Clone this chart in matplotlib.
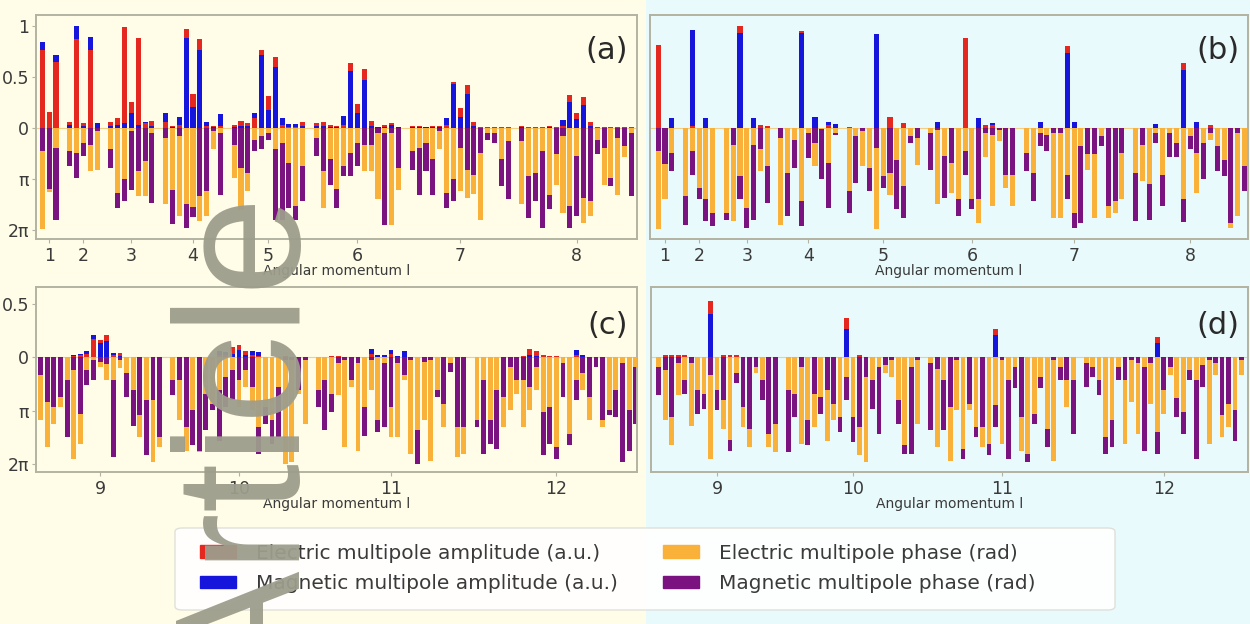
import numpy as np
import matplotlib
matplotlib.use("Agg")
import matplotlib.pyplot as plt
from matplotlib.patches import Patch, Rectangle, FancyBboxPatch

# angular momenta shown in each row
ls_top = [1, 2, 3, 4, 5, 6, 7, 8]
ls_bot = [9, 10, 11, 12]

# phases are given in units of pi (0..2), amplitudes in a.u.
# ---- panel (a) ----
a_e_amp = [0.77, 0.16, 0.65,
           0.06, 0.87, 0.05, 0.77, 0.00,
           0.06, 0.10, 0.99, 0.26, 0.88, 0.05, 0.07,
           0.06, 0.02, 0.03, 0.97, 0.33, 0.87, 0.02, 0.02, 0.02,
           0.03, 0.07, 0.05, 0.10, 0.77, 0.31, 0.70, 0.03, 0.01, 0.01, 0.06,
           0.05, 0.06, 0.03, 0.02, 0.03, 0.64, 0.24, 0.58, 0.07, 0.01, 0.03, 0.05, 0.01,
           0.02, 0.02, 0.01, 0.02, 0.02, 0.03, 0.45, 0.20, 0.42, 0.06, 0.01, 0.01, 0.01, 0.01, 0.01,
           0.02, 0.01, 0.01, 0.01, 0.02, 0.01, 0.02, 0.32, 0.15, 0.30, 0.06, 0.01, 0.01, 0.01, 0.01, 0.01, 0.01]
a_m_amp = [0.84, 0.00, 0.72,
           0.03, 1.00, 0.02, 0.89, 0.05,
           0.02, 0.03, 0.05, 0.15, 0.03, 0.06, 0.02,
           0.15, 0.01, 0.11, 0.88, 0.21, 0.77, 0.06, 0.01, 0.14,
           0.01, 0.02, 0.02, 0.15, 0.72, 0.18, 0.60, 0.10, 0.04, 0.04, 0.02,
           0.02, 0.02, 0.01, 0.01, 0.12, 0.56, 0.15, 0.47, 0.02, 0.01, 0.01, 0.03, 0.01,
           0.01, 0.01, 0.01, 0.01, 0.01, 0.10, 0.43, 0.11, 0.33, 0.02, 0.00, 0.00, 0.00, 0.00, 0.00,
           0.01, 0.00, 0.00, 0.00, 0.01, 0.00, 0.08, 0.26, 0.09, 0.23, 0.02, 0.00, 0.00, 0.00, 0.00, 0.00, 0.00]
a_e_ph = [1.98, 1.25, 0.40,
          0.45, 0.50, 0.30, 0.85, 0.82,
          0.42, 1.27, 1.01, 0.05, 1.34, 1.34, 0.10,
          1.50, 1.21, 1.73, 1.50, 1.55, 1.83, 1.73, 0.42, 0.10,
          0.98, 1.61, 1.24, 0.23, 0.16, 0.10, 0.42, 0.30, 0.69, 1.54, 0.75,
          0.20, 1.57, 0.60, 1.20, 0.75, 0.49, 0.30, 0.85, 0.85, 1.40, 0.10, 1.90, 1.21,
          0.46, 0.40, 0.30, 0.60, 0.42, 1.27, 1.01, 1.24, 1.37, 1.30, 1.80, 0.10, 0.10, 0.60, 0.25,
          1.50, 0.95, 0.88, 0.45, 1.31, 1.11, 1.67, 1.54, 0.55, 1.86, 1.73, 0.23, 1.11, 0.98, 1.31, 0.56, 0.10]
a_m_ph = [0.46, 1.20, 1.81,
          0.75, 0.98, 0.55, 0.33, 0.05,
          0.78, 1.57, 1.44, 1.21, 0.85, 0.65, 1.47,
          0.20, 1.88, 0.16, 1.96, 1.75, 1.34, 1.24, 0.05, 1.31,
          0.33, 0.78, 0.88, 0.46, 0.42, 0.23, 1.80, 1.80, 1.57, 1.80, 1.44,
          0.55, 0.85, 1.11, 1.57, 0.95, 0.95, 0.75, 0.33, 0.33, 0.10, 1.90, 0.10, 0.78,
          0.82, 1.31, 0.85, 1.31, 0.05, 1.57, 1.44, 0.40, 0.82, 0.92, 0.49, 0.23, 0.30, 1.14, 1.40,
          0.26, 1.76, 1.44, 1.96, 1.60, 0.52, 0.16, 1.96, 1.73, 1.37, 1.44, 0.52, 0.39, 1.14, 0.20, 0.36, 1.34]

# ---- panel (b) ----
b_e_amp = [0.82, 0.00, 0.00,
           0.00, 0.02, 0.00, 0.00, 0.00,
           0.00, 0.00, 1.00, 0.00, 0.00, 0.03, 0.02,
           0.00, 0.00, 0.00, 0.95, 0.00, 0.00, 0.00, 0.03, 0.00,
           0.01, 0.00, 0.00, 0.00, 0.00, 0.00, 0.11, 0.00, 0.05, 0.00, 0.00,
           0.00, 0.00, 0.00, 0.00, 0.00, 0.88, 0.00, 0.00, 0.03, 0.03, 0.00, 0.00, 0.00,
           0.00, 0.00, 0.00, 0.00, 0.00, 0.00, 0.81, 0.00, 0.00, 0.00, 0.00, 0.00, 0.00, 0.00, 0.00,
           0.00, 0.00, 0.00, 0.00, 0.00, 0.00, 0.00, 0.64, 0.00, 0.00, 0.00, 0.03, 0.00, 0.00, 0.00, 0.00, 0.00]
b_m_amp = [0.00, 0.00, 0.10,
           0.00, 0.96, 0.00, 0.10, 0.00,
           0.00, 0.00, 0.93, 0.00, 0.10, 0.00, 0.00,
           0.00, 0.00, 0.00, 0.93, 0.00, 0.11, 0.00, 0.06, 0.04,
           0.00, 0.00, 0.00, 0.00, 0.92, 0.00, 0.00, 0.00, 0.00, 0.00, 0.00,
           0.00, 0.06, 0.00, 0.00, 0.00, 0.00, 0.00, 0.10, 0.00, 0.05, 0.00, 0.00, 0.00,
           0.00, 0.00, 0.06, 0.00, 0.00, 0.00, 0.74, 0.06, 0.00, 0.00, 0.00, 0.00, 0.00, 0.00, 0.00,
           0.00, 0.00, 0.00, 0.04, 0.00, 0.00, 0.00, 0.57, 0.00, 0.06, 0.00, 0.00, 0.00, 0.00, 0.00, 0.00, 0.00]
b_e_ph = [1.98, 1.40, 0.50,
          1.34, 0.46, 1.18, 1.40, 1.66,
          1.66, 1.83, 0.95, 1.57, 0.33, 0.85, 0.75,
          1.90, 0.88, 0.23, 1.44, 0.10, 0.75, 0.02, 0.69, 0.10,
          1.24, 0.16, 0.75, 0.78, 1.98, 0.95, 1.31, 0.62, 1.14, 0.16, 0.72,
          0.10, 1.50, 0.55, 1.27, 1.40, 0.46, 1.40, 1.86, 0.56, 1.54, 0.26, 1.18, 1.54,
          0.49, 0.88, 0.10, 0.13, 1.76, 1.76, 0.92, 1.67, 0.36, 0.82, 1.76, 0.16, 1.76, 1.67, 1.40,
          0.88, 1.05, 1.10, 0.10, 0.92, 0.10, 0.30, 1.40, 0.16, 1.27, 0.30, 0.23, 0.36, 0.62, 1.96, 1.73, 0.75]
b_m_ph = [0.46, 0.70, 0.85,
          1.90, 0.92, 1.39, 1.83, 1.93,
          1.80, 0.33, 1.40, 1.96, 1.80, 0.42, 1.47,
          0.20, 1.73, 0.78, 1.92, 0.59, 0.30, 1.01, 1.57, 0.13,
          1.67, 1.08, 0.06, 1.24, 0.39, 1.18, 0.88, 1.60, 1.76, 0.30, 0.20,
          0.82, 0.03, 1.37, 0.69, 1.73, 0.92, 1.60, 1.40, 0.10, 0.13, 0.03, 0.92, 0.92,
          0.85, 1.44, 0.36, 0.46, 0.10, 0.10, 1.39, 1.96, 1.86, 0.52, 0.52, 0.36, 1.54, 1.44, 0.49,
          1.83, 0.33, 1.80, 0.30, 1.54, 0.56, 0.56, 1.85, 0.42, 0.50, 1.01, 0.10, 0.85, 0.95, 1.86, 0.10, 1.24]

# ---- panel (c) ----
c_e_amp = [0, 0, 0, 0, 0, .01, .02, .03, .17, .16, .21, .02, .04, 0, 0, 0, 0, 0, 0,
           0, 0, 0, 0, 0, 0, 0, .02, .02, .10, .12, .06, .02, .01, 0, 0, 0, .01, 0, 0, 0,
           0, 0, .01, .01, 0, 0, 0, 0, .03, .02, .02, .03, .01, 0, 0, 0, 0, 0, 0, 0, 0, 0, 0,
           0, 0, 0, 0, 0, 0, 0, .01, .08, .06, .02, .01, .01, 0, 0, .02, 0, 0, 0, 0, 0, 0, 0, 0, 0]
c_m_amp = [0, 0, 0, 0, 0, .02, .03, .06, .21, .13, .15, .04, .01, 0, 0, 0, 0, 0, 0,
           0, 0, 0, 0, 0, 0, 0, .06, .05, .03, .07, .02, .06, .05, 0, 0, 0, 0, 0, 0, 0,
           0, 0, 0, 0, 0, 0, 0, 0, .08, .02, .02, .07, .01, .06, 0, 0, 0, 0, 0, 0, 0, 0, 0,
           0, 0, 0, 0, 0, 0, 0, 0, .02, .01, 0, 0, 0, 0, 0, .07, .02, 0, 0, 0, 0, 0, 0, 0, 0]
c_e_ph = [1.18, 1.69, 1.25, 0.93, 0.43, 1.91, 1.62, 0.24, 0.05, 0.18, 0.43, 0.43, 0.20, 0.30, 0.62, 1.50, 0.80, 1.97, 1.69,
          0.43, 1.18, 1.75, 0.99, 1.78, 0.68, 0.87, 0.62, 0.37, 0.24, 0.93, 0.55, 0.99, 1.31, 0.93, 1.18, 0.55, 2.00, 1.97, 0.68, 1.25,
          0.62, 0.43, 0.68, 0.71, 1.69, 0.55, 1.75, 0.93, 0.62, 1.18, 0.10, 1.50, 1.50, 0.43, 1.81, 1.37, 1.18, 1.94, 0.62, 1.31, 0.10, 1.87, 1.81,
          1.18, 0.43, 1.18, 0.62, 1.31, 0.99, 0.68, 1.31, 0.99, 0.62, 1.03, 0.93, 1.69, 0.11, 1.43, 0.43, 0.62, 1.18, 0.18, 1.31, 0.99, 0.62, 0.11, 0.99, 0.18]
c_m_ph = [0.33, 0.84, 0.93, 0.74, 1.50, 0.24, 1.06, 0.52, 0.43, 0.08, 0.12, 1.87, 0.05, 0.74, 1.28, 1.09, 1.84, 0.80, 1.50,
          0.71, 0.43, 1.31, 1.65, 1.75, 1.37, 0.99, 1.56, 0.93, 0.80, 0.43, 0.24, 0.55, 1.81, 1.25, 1.62, 1.50, 0.05, 0.05, 0.62, 0.05,
          0.93, 1.37, 1.03, 0.10, 0.05, 0.43, 0.11, 1.47, 0.05, 1.40, 1.31, 0.93, 0.11, 0.33, 0.05, 2.00, 0.08, 0.05, 0.74, 0.87, 0.27, 1.31, 1.31,
          1.31, 1.81, 1.62, 1.72, 0.74, 0.18, 0.43, 0.43, 0.55, 0.18, 1.84, 1.62, 1.91, 0.74, 1.65, 0.80, 0.30, 0.74, 0.18, 1.18, 1.09, 1.12, 1.97, 1.75, 1.25]

# ---- panel (d) ----
d_e_amp = [0, .02, .02, .02, .02, 0, 0, 0, .53, 0, .02, .02, .02, 0, 0, 0, 0, 0, 0,
           0, 0, 0, 0, 0, 0, 0, 0, 0, .37, 0, .02, 0, 0, 0, 0, 0, 0, 0, 0, 0,
           0, 0, 0, 0, 0, 0, 0, 0, 0, 0, .27, 0, 0, 0, 0, 0, 0, 0, 0, 0, 0, 0, 0,
           0, 0, 0, 0, 0, 0, 0, 0, 0, 0, 0, .19, 0, 0, 0, 0, 0, 0, 0, 0, 0, 0, 0, 0, 0]
d_m_amp = [0, 0, 0, 0, 0, 0, 0, 0, .41, 0, 0, 0, 0, 0, 0, 0, 0, 0, 0,
           0, 0, 0, 0, 0, 0, 0, 0, 0, .27, 0, 0, 0, 0, 0, 0, 0, 0, 0, 0, 0,
           0, 0, 0, 0, 0, 0, 0, 0, 0, 0, .21, 0, 0, 0, 0, 0, 0, 0, 0, 0, 0, 0, 0,
           0, 0, 0, 0, 0, 0, 0, 0, 0, 0, 0, .13, 0, 0, 0, 0, 0, 0, 0, 0, 0, 0, 0, 0, 0]
d_e_ph = [0.18, 1.18, 1.65, 0.71, 0.43, 1.28, 0.62, 0.68, 1.91, 0.62, 1.34, 1.55, 0.30, 1.31, 1.69, 0.30, 0.43, 1.69, 1.78,
          0.62, 0.68, 1.62, 1.18, 1.31, 0.74, 1.56, 1.18, 1.12, 0.37, 1.12, 1.84, 1.97, 0.43, 0.18, 0.30, 0.37, 0.80, 1.65, 0.18, 1.25,
          0.11, 1.69, 0.43, 1.94, 0.99, 1.72, 0.99, 1.31, 1.69, 1.62, 0.90, 1.62, 0.43, 0.18, 1.75, 1.81, 1.06, 0.37, 1.34, 1.94, 0.18, 0.93, 0.43,
          0.11, 0.18, 0.43, 1.50, 1.18, 0.18, 1.62, 0.84, 1.43, 0.18, 0.87, 1.40, 1.06, 0.33, 0.77, 1.02, 0.24, 0.43, 0.14, 1.62, 0.33, 1.50, 1.31, 0.99, 0.33]
d_m_ph = [0.71, 0.24, 1.12, 0.11, 0.68, 0.11, 1.06, 0.96, 0.33, 0.99, 0.80, 1.75, 0.49, 0.93, 1.34, 0.18, 0.80, 1.43, 1.25,
          1.78, 1.12, 0.18, 1.65, 0.68, 1.06, 0.62, 0.87, 1.40, 0.80, 1.59, 1.31, 0.36, 0.96, 1.43, 0.14, 0.05, 1.25, 1.81, 1.81, 0.05,
          1.37, 0.21, 1.37, 0.93, 0.05, 1.91, 0.87, 1.50, 1.31, 1.84, 1.31, 0.05, 1.91, 0.58, 1.12, 1.97, 1.25, 0.58, 1.69, 0.05, 0.43, 0.43, 1.43,
          0.55, 0.36, 0.71, 1.81, 1.69, 0.43, 0.43, 0.05, 0.11, 1.75, 0.11, 1.81, 0.62, 0.18, 1.12, 1.43, 0.43, 1.91, 0.55, 0.05, 0.11, 1.09, 0.87, 1.56, 0.05]

legend_labels = ["Electric multipole amplitude (a.u.)", "Magnetic multipole amplitude (a.u.)",
                 "Electric multipole phase (rad)", "Magnetic multipole phase (rad)"]

RED, BLUE, ORANGE, PURPLE = "#e5281f", "#1515dc", "#f9b13a", "#7a127f"
BG_LEFT, BG_RIGHT = "#fffde8", "#e9fafc"
FRAME = "#b3b3a3"
TXT = "#3a3a3a"
tick_font = ["Liberation Sans Narrow", "DejaVu Sans"]


def bar_positions(ls):
    # one bar per m = -l..l, groups separated by one empty slot
    xs, centers = [], []
    start = 0
    for l in ls:
        xs.extend(range(start, start + 2 * l + 1))
        centers.append(start + l)
        start += 2 * l + 2
    return np.array(xs), centers


def overlap_bars(ax, x, v1, v2, c1, c2, sign, width=0.74):
    # the longer bar goes behind, the shorter one on top of it
    v1, v2 = np.asarray(v1, float), np.asarray(v2, float)
    first = v1 >= v2
    back = np.where(first, v1, v2)
    front = np.where(first, v2, v1)
    ax.bar(x, sign * back, width, color=np.where(first, c1, c2), linewidth=0, zorder=2)
    ax.bar(x, sign * front, width, color=np.where(first, c2, c1), linewidth=0, zorder=3)


def panel(ax, ls, e_amp, m_amp, e_ph, m_ph, tag, xlim, ylim, yticks, ylabels):
    x, centers = bar_positions(ls)
    ax.axhline(0, color="#f1cf86", lw=0.8, zorder=1)
    overlap_bars(ax, x, e_amp, m_amp, RED, BLUE, 1)
    overlap_bars(ax, x, np.array(e_ph) / 2, np.array(m_ph) / 2, ORANGE, PURPLE, -1)
    ax.set_xlim(*xlim)
    ax.set_ylim(*ylim)
    ax.set_facecolor("none")
    for s in ax.spines.values():
        s.set_color(FRAME)
        s.set_linewidth(1.4)
    ax.set_xticks(centers)
    ax.set_xticklabels([str(l) for l in ls], family=tick_font, fontsize=12.5, color=TXT)
    ax.tick_params(axis="x", length=3, color=FRAME, pad=3)
    if yticks is None:
        ax.set_yticks([])
    else:
        ax.set_yticks(yticks)
        ax.set_yticklabels(ylabels, family=tick_font, fontsize=12.5, color=TXT)
        ax.tick_params(axis="y", length=3, color=FRAME, pad=2)
    ax.set_xlabel("Angular momentum l", family=tick_font, fontsize=10, color=TXT, labelpad=-1)
    ax.text(0.985, 0.84 if ylim[1] > 1 else 0.79, tag, transform=ax.transAxes, ha="right", va="center",
            fontsize=22, color="#2a2a2a", family=tick_font)


fig = plt.figure(figsize=(12.5, 6.24), dpi=100)
fig.patch.set_facecolor(BG_LEFT)
fig.patches.append(Rectangle((0.5165, 0), 0.4835, 1, transform=fig.transFigure,
                             facecolor=BG_RIGHT, edgecolor="none", zorder=-5))

ax_a = fig.add_axes([0.0288, 0.617, 0.4808, 0.359])
ax_b = fig.add_axes([0.52, 0.617, 0.4784, 0.359])
ax_c = fig.add_axes([0.0288, 0.2436, 0.4808, 0.2965])
ax_d = fig.add_axes([0.5208, 0.2436, 0.4776, 0.2965])

top_ticks = [1, 0.5, 0, -0.5, -1]
top_labels = ["1", "0.5", "0", "π", "2π"]
bot_ticks = [0.5, 0, -0.5, -1]
bot_labels = ["0.5", "0", "π", "2π"]

panel(ax_a, ls_top, a_e_amp, a_m_amp, a_e_ph, a_m_ph, "(a)", (-0.92, 86.8), (-1.09, 1.11), top_ticks, top_labels)
panel(ax_b, ls_top, b_e_amp, b_m_amp, b_e_ph, b_m_ph, "(b)", (-1.2, 86.5), (-1.09, 1.11), None, None)
panel(ax_c, ls_bot, c_e_amp, c_m_amp, c_e_ph, c_m_ph, "(c)", (-0.7, 90.2), (-1.075, 0.66), bot_ticks, bot_labels)
panel(ax_d, ls_bot, d_e_amp, d_m_amp, d_e_ph, d_m_ph, "(d)", (-1.2, 91.0), (-1.075, 0.66), None, None)

# legend box drawn separately so it can be wider than its entries
fig.patches.append(FancyBboxPatch((175 / 1250, 1 - 610 / 624), 940 / 1250, 82 / 624,
                                  boxstyle="round,pad=0,rounding_size=0.006", transform=fig.transFigure,
                                  facecolor="white", edgecolor="#deded8", linewidth=1.0, alpha=0.93, zorder=4))
handles = [Patch(color=c) for c in (RED, BLUE, ORANGE, PURPLE)]
leg = fig.legend(handles, legend_labels, ncol=2, loc="center left", bbox_to_anchor=(200 / 1250, 1 - 568.5 / 624),
                 fontsize=14.5, frameon=False, handlelength=1.8, handleheight=0.6, handletextpad=1.0,
                 columnspacing=2.2, labelspacing=0.55, borderpad=0, borderaxespad=0)
leg.set_zorder(5)
for t in leg.get_texts():
    t.set_color(TXT)

# "Article" watermark over the left part of the figure
fig.text(300 / 1250, 1 - 195 / 624, "Article", rotation=90, rotation_mode="anchor",
         ha="right", va="baseline", fontsize=128, family=["Liberation Sans", "DejaVu Sans"],
         color="#9d9d8c", alpha=0.95, zorder=20)

fig.savefig("out.png", dpi=100, facecolor=fig.get_facecolor())
